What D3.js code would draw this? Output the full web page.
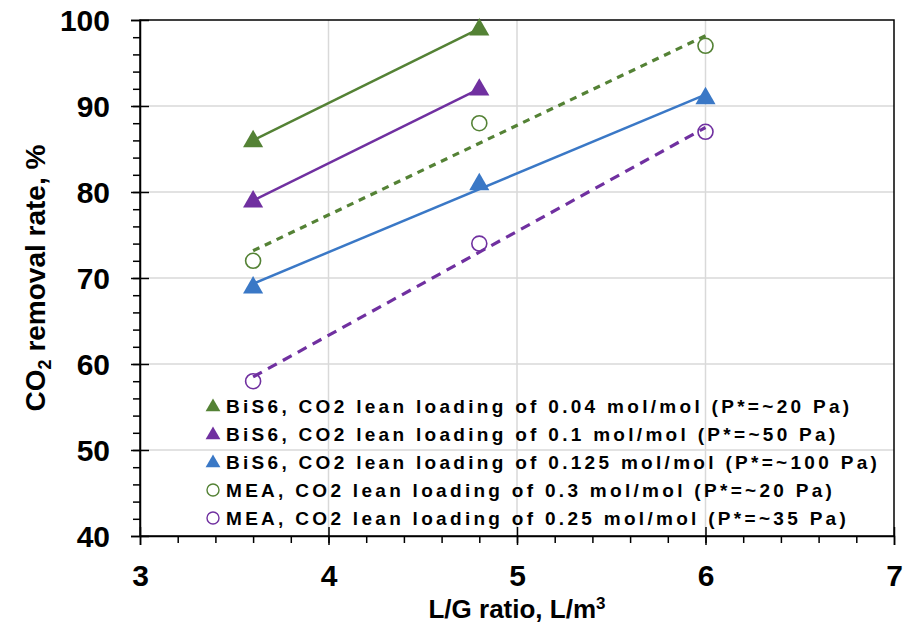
<!DOCTYPE html>
<html>
<head>
<meta charset="utf-8">
<script src="https://cdn.jsdelivr.net/npm/d3@7"></script>
<style>
  body { margin: 0; background: #fff; }
  text { font-family: "Liberation Sans", Arial, sans-serif; font-weight: bold; }
</style>
</head>
<body>
<div id="chart"></div>
<script>
// data
const lgRatio = [3.6, 4.8, 6];
const bis6_004 = [86, 99, null];
const bis6_01 = [79, 92, null];
const bis6_0125 = [69, 81, 91];
const mea_03 = [72, 88, 97];
const mea_025 = [58, 74, 87];

const seriesNames = [
  "BiS6, CO2 lean loading of 0.04 mol/mol (P*=~20 Pa)",
  "BiS6, CO2 lean loading of 0.1 mol/mol (P*=~50 Pa)",
  "BiS6, CO2 lean loading of 0.125 mol/mol (P*=~100 Pa)",
  "MEA, CO2 lean loading of 0.3 mol/mol (P*=~20 Pa)",
  "MEA, CO2 lean loading of 0.25 mol/mol (P*=~35 Pa)"
];
const xTicks = [3, 4, 5, 6, 7];
const yTicks = [40, 50, 60, 70, 80, 90, 100];

const series = [
  { name: seriesNames[0], values: bis6_004, color: "#548235", marker: "triangle", dash: null },
  { name: seriesNames[1], values: bis6_01, color: "#7030a0", marker: "triangle", dash: null },
  { name: seriesNames[2], values: bis6_0125, color: "#3a78c6", marker: "triangle", dash: null },
  { name: seriesNames[3], values: mea_03, color: "#548235", marker: "circle", dash: "7,6" },
  { name: seriesNames[4], values: mea_025, color: "#7030a0", marker: "circle", dash: "10,7" }
];

const width = 913, height = 635;
const margin = { top: 20, right: 19, bottom: 99, left: 140 };

const svg = d3.select("#chart").append("svg")
  .attr("width", width)
  .attr("height", height);

const x = d3.scaleLinear().domain([3, 7]).range([margin.left, width - margin.right]);
const y = d3.scaleLinear().domain([40, 100]).range([height - margin.bottom, margin.top]);

// gridlines
svg.append("g")
  .selectAll("line.hg")
  .data(yTicks.slice(1, -1))
  .join("line")
  .attr("x1", x(3)).attr("x2", x(7))
  .attr("y1", d => y(d)).attr("y2", d => y(d))
  .attr("stroke", "#d9d9d9").attr("stroke-width", 1.5);

svg.append("g")
  .selectAll("line.vg")
  .data(xTicks.slice(1, -1))
  .join("line")
  .attr("x1", d => x(d)).attr("x2", d => x(d))
  .attr("y1", y(40)).attr("y2", y(100))
  .attr("stroke", "#d9d9d9").attr("stroke-width", 1.5);

// plot border
svg.append("rect")
  .attr("x", x(3)).attr("y", y(100))
  .attr("width", x(7) - x(3)).attr("height", y(40) - y(100))
  .attr("fill", "none").attr("stroke", "#000").attr("stroke-width", 1.5);

// minor ticks
svg.append("g")
  .attr("transform", `translate(${x(3)},0)`)
  .call(d3.axisLeft(y).tickValues(d3.range(42, 100, 2)).tickSize(7).tickFormat(""))
  .call(g => g.select(".domain").remove())
  .selectAll("line").attr("stroke-width", 1.5);

svg.append("g")
  .attr("transform", `translate(0,${y(40)})`)
  .call(d3.axisBottom(x).tickValues(d3.range(3.2, 7, 0.2)).tickSize(7).tickFormat(""))
  .call(g => g.select(".domain").remove())
  .selectAll("line").attr("stroke-width", 1.5);

// major ticks, crossing the axes
const yAxis = svg.append("g")
  .attr("transform", `translate(${x(3)},0)`)
  .call(d3.axisLeft(y).tickValues(yTicks).tickSize(9))
  .call(g => g.select(".domain").attr("stroke-width", 1.5));
yAxis.selectAll(".tick line").attr("x2", 9).attr("x1", -9).attr("stroke-width", 1.5);
yAxis.selectAll(".tick text").attr("font-size", 30).attr("fill", "#000")
  .attr("font-family", "Liberation Sans, Arial, sans-serif").attr("font-weight", "bold")
  .attr("x", -30).attr("dy", "0.36em");

const xAxis = svg.append("g")
  .attr("transform", `translate(0,${y(40)})`)
  .call(d3.axisBottom(x).tickValues(xTicks).tickSize(9).tickFormat(d3.format("d")))
  .call(g => g.select(".domain").attr("stroke-width", 1.5));
xAxis.selectAll(".tick line").attr("y1", -9).attr("y2", 9).attr("stroke-width", 1.5);
xAxis.selectAll(".tick text").attr("font-size", 30).attr("fill", "#000")
  .attr("font-family", "Liberation Sans, Arial, sans-serif").attr("font-weight", "bold")
  .attr("y", 50).attr("dy", 0);

// linear trendlines
function fit(s) {
  const pts = lgRatio.map((v, i) => [v, s.values[i]]).filter(p => p[1] != null);
  const mx = d3.mean(pts, p => p[0]), my = d3.mean(pts, p => p[1]);
  const slope = d3.sum(pts, p => (p[0] - mx) * (p[1] - my)) / d3.sum(pts, p => (p[0] - mx) ** 2);
  const ends = d3.extent(pts, p => p[0]);
  return ends.map(v => [v, my + slope * (v - mx)]);
}

const line = d3.line().x(d => x(d[0])).y(d => y(d[1]));

svg.append("g")
  .selectAll("path")
  .data(series)
  .join("path")
  .attr("d", d => line(fit(d)))
  .attr("fill", "none")
  .attr("stroke", d => d.color)
  .attr("stroke-width", d => d.dash ? 3.2 : 2.5)
  .attr("stroke-dasharray", d => d.dash);

// markers
const tri = d3.symbol().type(d3.symbolTriangle).size(175);
const triSmall = d3.symbol().type(d3.symbolTriangle).size(95);

series.forEach(s => {
  const pts = lgRatio.map((v, i) => [v, s.values[i]]).filter(p => p[1] != null);
  const g = svg.append("g");
  if (s.marker === "triangle") {
    g.selectAll("path").data(pts).join("path")
      .attr("d", tri)
      .attr("transform", d => `translate(${x(d[0])},${y(d[1]) + 1})`)
      .attr("fill", s.color);
  } else {
    g.selectAll("circle").data(pts).join("circle")
      .attr("cx", d => x(d[0])).attr("cy", d => y(d[1]))
      .attr("r", 7.5)
      .attr("fill", "none")
      .attr("stroke", s.color).attr("stroke-width", 1.6);
  }
});

// legend
const legend = svg.append("g").attr("transform", "translate(213,406)");
const rows = legend.selectAll("g")
  .data(series)
  .join("g")
  .attr("transform", (d, i) => `translate(0,${i * 28})`);

rows.filter(d => d.marker === "triangle").append("path")
  .attr("d", triSmall)
  .attr("transform", "translate(0,1)")
  .attr("fill", d => d.color);
rows.filter(d => d.marker === "circle").append("circle")
  .attr("r", 6)
  .attr("fill", "none")
  .attr("stroke", d => d.color).attr("stroke-width", 1.4);

rows.append("text")
  .attr("x", 13)
  .attr("dy", "0.36em")
  .attr("font-size", 19)
  .attr("letter-spacing", 3.3)
  .text(d => d.name);

// axis titles
const yt = svg.append("text")
  .attr("transform", `translate(45,${(y(40) + y(100)) / 2}) rotate(-90)`)
  .attr("text-anchor", "middle")
  .attr("font-size", 28);
yt.append("tspan").text("CO");
yt.append("tspan").attr("font-size", 18).attr("dy", 6).text("2");
yt.append("tspan").attr("dy", -6).text(" removal rate, %");

const xt = svg.append("text")
  .attr("x", (x(3) + x(7)) / 2)
  .attr("y", 618)
  .attr("text-anchor", "middle")
  .attr("font-size", 26);
xt.append("tspan").text("L/G ratio, L/m");
xt.append("tspan").attr("font-size", 17).attr("dy", -9).text("3");
</script>
</body>
</html>
